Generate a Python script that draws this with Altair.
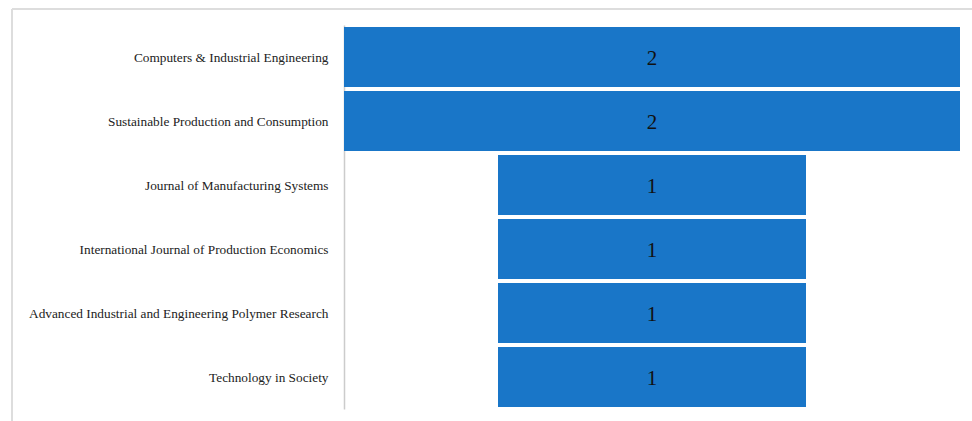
import altair as alt
import pandas as pd

journals = [
    "Computers & Industrial Engineering",
    "Sustainable Production and Consumption",
    "Journal of Manufacturing Systems",
    "International Journal of Production Economics",
    "Advanced Industrial and Engineering Polymer Research",
    "Technology in Society",
]
counts = [2, 2, 1, 1, 1, 1]

df = pd.DataFrame({"journal": journals, "count": counts})

yenc = alt.Y("journal:N", sort=journals,
             scale=alt.Scale(paddingInner=0.0625, paddingOuter=0.03),
             axis=alt.Axis(title=None, ticks=False, labelPadding=16, labelFontSize=13.3,
                           labelFont="Liberation Serif", labelColor="#222222",
                           labelOffset=1,
                           domainColor="#cccccc", domainWidth=1.5, labelLimit=400))
xscale = alt.Scale(domain=[-1, 1], nice=False, zero=False)

base = alt.Chart(df).transform_calculate(
    x0="-datum.count / 2", x1="datum.count / 2", mid="0"
)

bars = base.mark_bar(color="#1976c8", cornerRadius=0).encode(
    x=alt.X("x0:Q", scale=xscale, axis=None),
    x2="x1:Q",
    y=yenc,
)

labels = base.mark_text(font="Liberation Serif", fontSize=21, color="#111111",
                        baseline="middle", dy=2).encode(
    x=alt.X("mid:Q", scale=xscale),
    y=alt.Y("journal:N", sort=journals),
    text="count:Q",
)

frame_left = alt.Chart(df).mark_rule(color="#dddddd", strokeWidth=1.5).encode(
    x=alt.value(-332), y=alt.value(-16), y2=alt.value(420)
)
frame_top = alt.Chart(df).mark_rule(color="#dddddd", strokeWidth=1.5).encode(
    x=alt.value(-332), x2=alt.value(640), y=alt.value(-16)
)

chart = alt.layer(frame_left, frame_top, bars, labels).properties(
    width=616, height=384,
    padding={"left": 344, "top": 25, "right": 12, "bottom": 12},
    autosize=alt.AutoSizeParams(type="none"),
).configure(background="white").configure_view(strokeWidth=0, stroke="transparent")

chart.save("out.html", embed_options={"renderer": "svg", "actions": False})
